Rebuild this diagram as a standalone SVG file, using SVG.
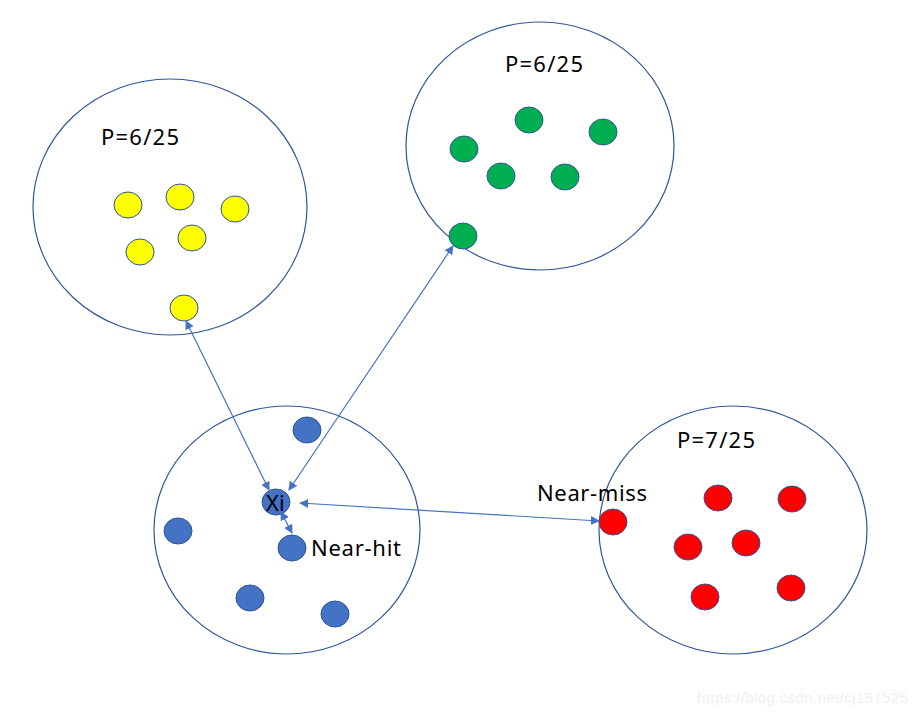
<svg xmlns="http://www.w3.org/2000/svg" width="917" height="715" viewBox="0 0 917 715">
<style>
.big{fill:#fff;stroke:#2F5597;stroke-width:1.2}
.dot{stroke:#2F5597;stroke-width:1}
.y{fill:#FFFF00}.g{fill:#00B050}.b{fill:#4472C4}.r{fill:#FF0000}
.lbl{font-family:"Noto Sans","Liberation Sans",sans-serif;font-size:22px;fill:#000}
.wm{font-family:"Liberation Sans",sans-serif;font-size:15px;fill:#efefef}
.con{stroke:#4472C4;stroke-width:1.2;fill:none;marker-start:url(#ah);marker-end:url(#ah)}
</style>
<defs>
<marker id="ah" viewBox="0 0 10 10" refX="9" refY="5" markerWidth="9" markerHeight="9" markerUnits="userSpaceOnUse" orient="auto-start-reverse">
<path d="M0,0L10,5L0,10z" fill="#4472C4"/>
</marker>
</defs>
<rect width="917" height="715" fill="#fff"/>
<g id="cluster-yellow">
<ellipse class="big" cx="170" cy="207" rx="137" ry="128"/>
<text class="lbl" x="101" y="145" textLength="78">P=6/25</text>
<ellipse class="dot y" cx="128" cy="205" rx="14" ry="13"/>
<ellipse class="dot y" cx="180" cy="197" rx="14" ry="13"/>
<ellipse class="dot y" cx="235" cy="209" rx="14" ry="13"/>
<ellipse class="dot y" cx="140" cy="252" rx="14" ry="13"/>
<ellipse class="dot y" cx="192" cy="238" rx="14" ry="13"/>
<ellipse class="dot y" cx="184" cy="308" rx="14" ry="13"/>
</g>
<g id="cluster-green">
<ellipse class="big" cx="540" cy="146" rx="134" ry="124"/>
<text class="lbl" x="505" y="72" textLength="78">P=6/25</text>
<ellipse class="dot g" cx="529" cy="120" rx="14" ry="13"/>
<ellipse class="dot g" cx="603" cy="132" rx="14" ry="13"/>
<ellipse class="dot g" cx="464" cy="149" rx="14" ry="13"/>
<ellipse class="dot g" cx="501" cy="176" rx="14" ry="13"/>
<ellipse class="dot g" cx="565" cy="177" rx="14" ry="13"/>
<ellipse class="dot g" cx="463" cy="236" rx="14" ry="13"/>
</g>
<g id="cluster-blue">
<ellipse class="big" cx="287" cy="530" rx="133" ry="124"/>
<ellipse class="dot b" cx="307" cy="430" rx="14" ry="13"/>
<ellipse class="dot b" cx="276" cy="502" rx="14" ry="13"/>
<ellipse class="dot b" cx="178" cy="531" rx="14" ry="13"/>
<ellipse class="dot b" cx="292" cy="548" rx="14" ry="13"/>
<ellipse class="dot b" cx="250" cy="598" rx="14" ry="13"/>
<ellipse class="dot b" cx="335" cy="614" rx="14" ry="13"/>
<text class="lbl" x="266" y="511">Xi</text>
<text class="lbl" x="311" y="556" textLength="90">Near-hit</text>
</g>
<g id="cluster-red">
<ellipse class="big" cx="733" cy="530" rx="134" ry="124"/>
<text class="lbl" x="677" y="448" textLength="78">P=7/25</text>
<ellipse class="dot r" cx="718" cy="498" rx="14" ry="13"/>
<ellipse class="dot r" cx="792" cy="499" rx="14" ry="13"/>
<ellipse class="dot r" cx="613" cy="522" rx="14" ry="13"/>
<ellipse class="dot r" cx="688" cy="547" rx="14" ry="13"/>
<ellipse class="dot r" cx="746" cy="543" rx="14" ry="13"/>
<ellipse class="dot r" cx="705" cy="597" rx="14" ry="13"/>
<ellipse class="dot r" cx="791" cy="588" rx="14" ry="13"/>
<text class="lbl" x="537" y="501" textLength="110">Near-miss</text>
</g>
<g id="connectors">
<line class="con" x1="186" y1="321" x2="269" y2="490"/>
<line class="con" x1="453" y1="246" x2="289" y2="490"/>
<line class="con" x1="300" y1="503" x2="599" y2="521"/>
<line class="con" x1="281" y1="512" x2="292" y2="533"/>
</g>
<text class="wm" x="697" y="703" textLength="211">https://blog.csdn.net/cj151525</text>
</svg>
